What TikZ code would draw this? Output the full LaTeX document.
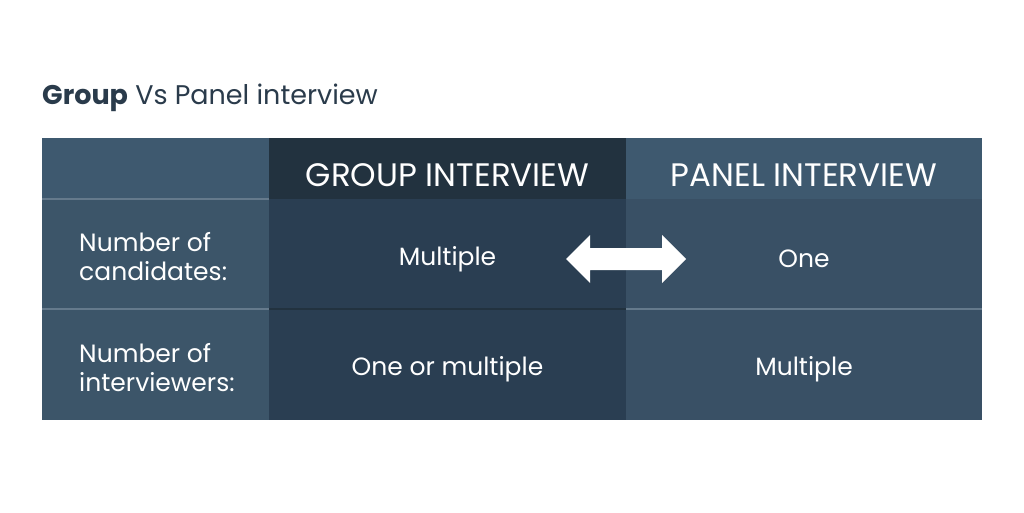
\documentclass[tikz,border=0pt]{standalone}
\usepackage{fontspec}
\setmainfont{Poppins}
\usetikzlibrary{positioning}
\definecolor{hdrlight}{HTML}{3E596F}
\definecolor{hdrdark}{HTML}{22323F}
\definecolor{celllabel}{HTML}{3C5569}
\definecolor{cellgroup}{HTML}{2A3E52}
\definecolor{cellpanel}{HTML}{395065}
\definecolor{titlecol}{HTML}{2A3B4B}
\begin{document}
\begin{tikzpicture}
	[x=1pt, y=-1pt,
	cell/.style = {rectangle, inner sep=0, outer sep=0},
	txt/.style = {inner sep=0, text=white, align=left, font=\fontsize{25}{29}\selectfont},
	htxt/.style = {txt, font=\fontsize{32.5}{36}\selectfont}]
	\useasboundingbox [fill=white] (0,0) rectangle (1024,512);
	\node (title) [anchor=base west, text=titlecol, font=\fontsize{27}{31}\selectfont, inner sep=0] at (42,104) {\textbf{Group} Vs Panel interview};
	% header row
	\node (h0) [cell, fill=hdrlight, minimum width=227pt, minimum height=61pt] at (155.5,168.5) {};
	\node (h1) [cell, fill=hdrdark, minimum width=357pt, minimum height=61pt, right=0pt of h0] {};
	\node (h2) [cell, fill=hdrlight, minimum width=356pt, minimum height=61pt, right=0pt of h1] {};
	% first row
	\node (a0) [cell, fill=celllabel, minimum width=227pt, minimum height=110pt, below=0pt of h0] {};
	\node (a1) [cell, fill=cellgroup, minimum width=357pt, minimum height=110pt, below=0pt of h1] {};
	\node (a2) [cell, fill=cellpanel, minimum width=356pt, minimum height=110pt, below=0pt of h2] {};
	% second row
	\node (b0) [cell, fill=celllabel, minimum width=227pt, minimum height=111pt, below=0pt of a0] {};
	\node (b1) [cell, fill=cellgroup, minimum width=357pt, minimum height=111pt, below=0pt of a1] {};
	\node (b2) [cell, fill=cellpanel, minimum width=356pt, minimum height=111pt, below=0pt of a2] {};
	% row rules
	\draw [hdrlight!80!white, line width=1.2pt] (a0.south west) -- (a0.south east);
	\draw [hdrdark, line width=1.2pt] (a1.south west) -- (a1.south east);
	\draw [hdrlight!80!white, line width=1.2pt] (a2.south west) -- (a2.south east);
	\draw [hdrlight!80!white, line width=1.2pt] (h0.south west) -- (h0.south east);
	% texts
	\node [htxt, yshift=-7pt] at (h1) {GROUP INTERVIEW};
	\node [htxt, yshift=-7pt] at (h2) {PANEL INTERVIEW};
	\node [txt, anchor=west, yshift=-3pt] at ([xshift=37pt]a0.west) {Number of\\candidates:};
	\node [txt, yshift=-5pt] at (a1) {Multiple};
	\node [txt, yshift=-5pt] at (a2) {One};
	\node [txt, anchor=west, yshift=-3pt] at ([xshift=37pt]b0.west) {Number of\\interviewers:};
	\node [txt, yshift=-5pt] at (b1) {One or multiple};
	\node [txt, yshift=-5pt] at (b2) {Multiple};
	% swap arrow
	\fill [white] (566,259) -- (590,235) -- (590,248) -- (662,248) -- (662,235) -- (686,259)
		-- (662,283) -- (662,270) -- (590,270) -- (590,283) -- cycle;
\end{tikzpicture}
\end{document}
